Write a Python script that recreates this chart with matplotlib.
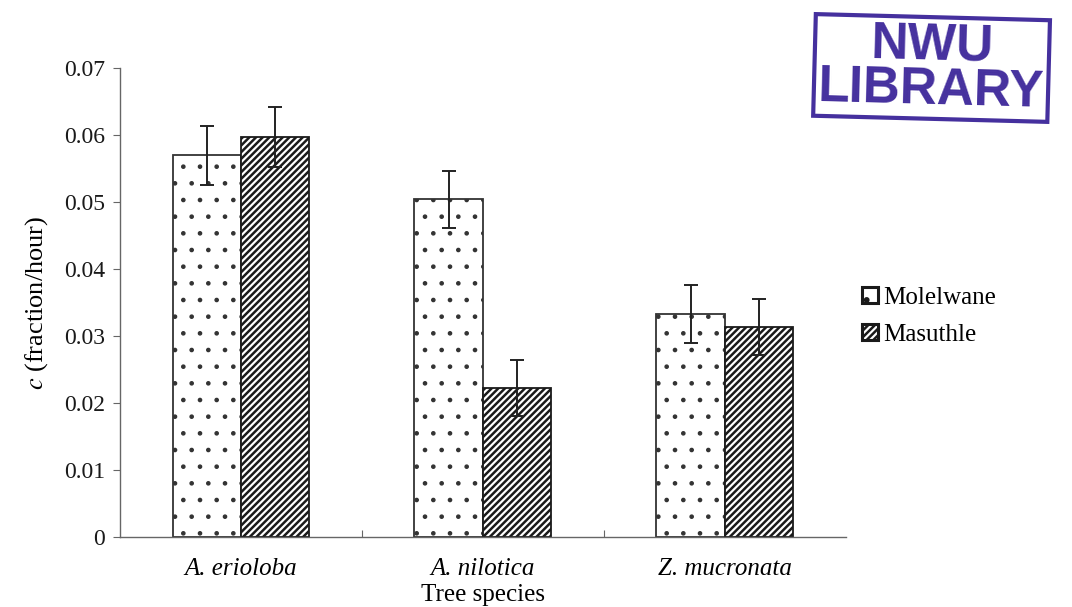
import matplotlib.pyplot as plt
import numpy as np

plt.rcParams['font.family'] = ['Liberation Serif', 'DejaVu Serif']
plt.rcParams['mathtext.fontset'] = 'stix'
plt.rcParams['hatch.linewidth'] = 1.8

species = ['A. erioloba', 'A. nilotica', 'Z. mucronata']
molelwane = [0.0570, 0.0504, 0.0333]
masuthle = [0.0597, 0.0222, 0.0313]
molelwane_err = [0.0044, 0.0043, 0.0043]
masuthle_err = [0.0045, 0.0042, 0.0042]

fig = plt.figure(figsize=(10.72, 6.07), dpi=100)
ax = fig.add_axes([0.112, 0.1153, 0.677, 0.7727])

x = np.arange(len(species))
w = 0.283
b1 = ax.bar(x - w / 2, molelwane, w, color='white', edgecolor='#222222', linewidth=1.3,
            hatch='.', label='Molelwane')
b2 = ax.bar(x + w / 2, masuthle, w, color='white', edgecolor='#1a1a1a', linewidth=1.3,
            hatch='/////', label='Masuthle')
# lighter dots for the stippled bars
for p in b1:
    try:
        p.set_hatch_linewidth(0.9)
    except AttributeError:
        pass
    p.set_edgecolor('#333333')

ax.errorbar(x - w / 2, molelwane, yerr=molelwane_err, fmt='none', ecolor='#222222',
            elinewidth=1.4, capsize=5, capthick=1.4)
ax.errorbar(x + w / 2, masuthle, yerr=masuthle_err, fmt='none', ecolor='#222222',
            elinewidth=1.4, capsize=5, capthick=1.4)

ax.set_xlim(-0.5, 2.5)
ax.set_ylim(0, 0.07)
ax.set_yticks(np.arange(0, 0.071, 0.01))
ax.set_yticklabels(['0', '0.01', '0.02', '0.03', '0.04', '0.05', '0.06', '0.07'])
ax.set_xticks([0.5, 1.5], minor=False)
ax.set_xticklabels(['', ''])
ax.set_xticks(x, minor=True)
ax.set_xticklabels(species, minor=True, style='italic', fontsize=18)
ax.tick_params(axis='x', which='minor', length=0, pad=15)
ax.tick_params(axis='x', which='major', length=5, direction='in', color='#666666')
ax.tick_params(axis='y', length=5, color='#666666', labelsize=17, pad=6,
               labelcolor='#1a1a1a')
for s in ['top', 'right']:
    ax.spines[s].set_visible(False)
for s in ['left', 'bottom']:
    ax.spines[s].set_color('#666666')
    ax.spines[s].set_linewidth(1.0)

ax.set_xlabel('Tree species', fontsize=18, labelpad=3)
ax.set_ylabel('$\\it{c}$ (fraction/hour)', fontsize=19, labelpad=10)

leg = fig.legend(loc='upper left', bbox_to_anchor=(0.783, 0.565), frameon=False, fontsize=18,
                 handlelength=0.65, handleheight=0.65, handletextpad=0.2, labelspacing=0.6)
for h in leg.legend_handles:
    h.set_linewidth(2.2)
    h.set_edgecolor('#1a1a1a')

# library stamp
fig.text(0.869, 0.888, 'NWU\nLIBRARY', fontsize=37, fontweight='bold', family='Liberation Sans',
         color='#45309e', ha='center', va='center', linespacing=0.88, rotation=-1.5,
         bbox=dict(boxstyle='square,pad=0.08', fc='none', ec='#45309e', lw=3))

fig.savefig('out.png', dpi=100)
